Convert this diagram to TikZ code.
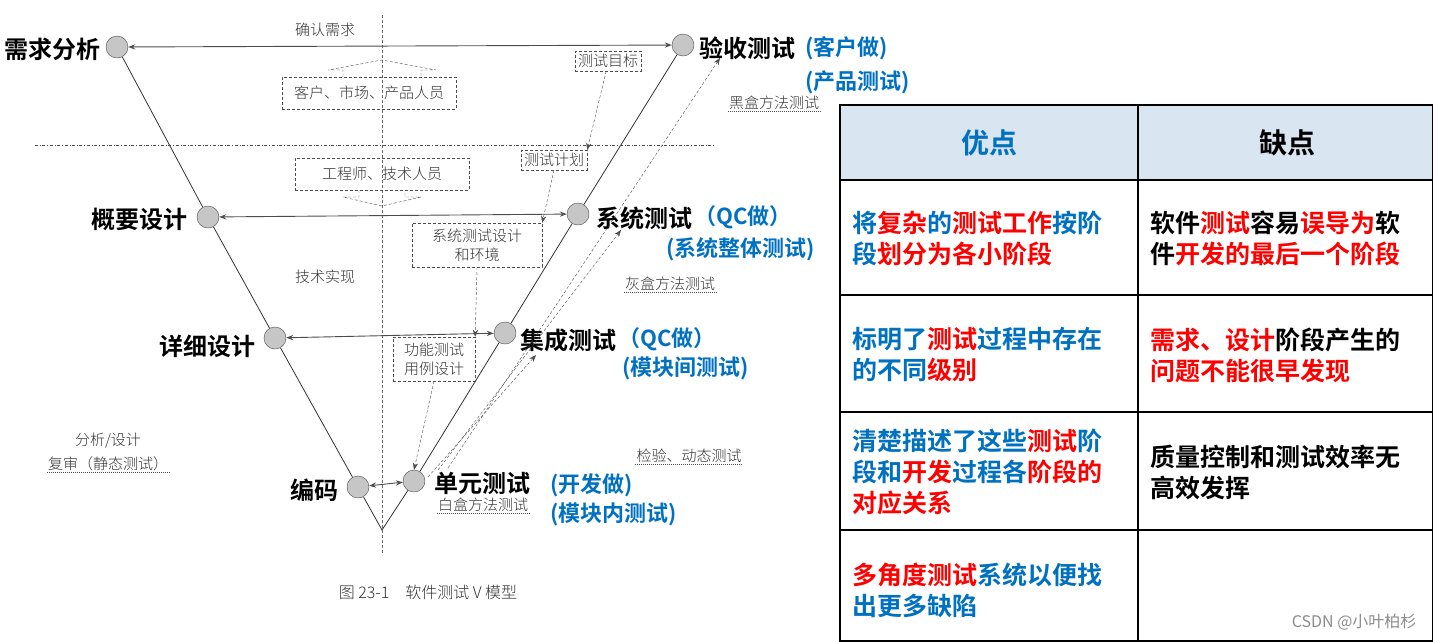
\documentclass[tikz,border=0pt]{standalone}
\usepackage{fontspec}
\setmainfont{Noto Sans CJK SC}
\newfontfamily\cjkb{Noto Sans CJK SC Bold}
\newfontfamily\cjkl{Noto Sans CJK SC Light}
\usetikzlibrary{arrows.meta}
\definecolor{myblue}{HTML}{0070C0}
\definecolor{myred}{HTML}{FF0000}
\definecolor{hdr}{HTML}{D9E5F0}
\newcommand{\Bl}[1]{\textcolor{myblue}{#1}}
\newcommand{\Rd}[1]{\textcolor{myred}{#1}}
\tikzset{
 x=1pt,y=-1pt,
 dot/.style={circle,minimum size=22pt,inner sep=0,fill=gray!45,draw=gray!60!black},
 lab/.style={font=\cjkb\fontsize{24}{26}\selectfont,inner sep=0},
 blab/.style={font=\cjkb\fontsize{22}{24}\selectfont,text=myblue,inner sep=0},
 small/.style={font=\cjkl\fontsize{15}{19}\selectfont,text=black!80,inner sep=1pt,align=center},
 dbox/.style={small,draw=black!70,densely dashed,inner sep=3pt},
 uline/.style={small,append after command={(\tikzlastnode.south west) edge[black!70,densely dotted,line width=1pt] (\tikzlastnode.south east)}},
 harr/.style={{Stealth[length=7pt,open]}-{Stealth[length=7pt,open]},black!70,line width=0.9pt},
 darr/.style={-{Stealth[length=7pt]},black!70,densely dashed},
 cell/.style={font=\cjkb\fontsize{25}{31}\selectfont,anchor=west,align=left,inner sep=0},
}
\begin{document}
\begin{tikzpicture}
\useasboundingbox (0,0) rectangle (1433,641);
\coordinate (vb) at (382,530);
\node[dot] (a1) at (117,47) {};
\node[dot] (a2) at (208,217) {};
\node[dot] (a3) at (275,338) {};
\node[dot] (a4) at (358,487) {};
\node[dot] (b1) at (683,45) {};
\node[dot] (b2) at (578,214) {};
\node[dot] (b3) at (505,333) {};
\node[dot] (b4) at (414,481) {};
\draw[black!80,line width=0.8pt] (a1)--(a2)--(a3)--(a4)--(vb)--(b4)--(b3)--(b2)--(b1);
\coordinate (ct) at (382,15); \coordinate (cb) at (382,555);
\draw[black!60,densely dashed] (ct)--(cb);
\coordinate (hl) at (35,145); \coordinate (hr) at (715,145);
\draw[black!70,dash dot,line width=0.8pt] (hl)--(hr);
\draw[harr] (a1)--(b1);
\draw[harr] (a2)--(b2);
\draw[harr] (a3)--(b3);
\draw[harr] (a4)--(b4);
% labels
\node[lab,anchor=east] at (101,49) {需求分析};
\node[lab,anchor=west] at (699,48) {验收测试};
\node[blab,anchor=west] at (805,48) {(客户做)};
\node[blab,anchor=west] at (805,82) {(产品测试)};
\node[lab,anchor=east] at (188,219) {概要设计};
\node[lab,anchor=west] at (596,218) {系统测试};
\node[blab,anchor=west] at (694,217) {（QC做）};
\node[blab,anchor=west] at (666,249) {(系统整体测试)};
\node[lab,anchor=east] at (256,346) {详细设计};
\node[lab,anchor=west] at (520,340) {集成测试};
\node[blab,anchor=west] at (618,339) {（QC做）};
\node[blab,anchor=west] at (622,368) {(模块间测试)};
\node[lab,anchor=east] at (339,490) {编码};
\node[lab,anchor=west] at (434,483) {单元测试};
\node[blab,anchor=west] at (550,485) {(开发做)};
\node[blab,anchor=west] at (550,514) {(模块内测试)};
% small texts
\node[small] (t1) at (325,30) {确认需求};
\node[uline] (t2) at (774,103) {黑盒方法测试};
\node[small] (t3) at (325,277) {技术实现};
\node[uline] (t4) at (670,284) {灰盒方法测试};
\node[small] (t5) at (108,441) {分析/设计};
\node[uline] (t6) at (108,464) {复审（静态测试）};
\node[uline] (t7) at (689,456) {检验、动态测试};
\node[uline] (t8) at (483,505) {白盒方法测试};
\node[small,font=\cjkl\fontsize{16}{19}\selectfont] (cap) at (428,592) {图 23-1\quad 软件测试 V 模型};
% dashed boxes
\node[dbox] (m1) at (608,61) {测试目标};
\node[dbox,minimum width=174pt,minimum height=32pt] (m2) at (369,93) {客户、市场、产品人员};
\node[dbox,minimum width=174pt,minimum height=32pt] (m3) at (382,174) {工程师、技术人员};
\node[dbox] (m4) at (554,160) {测试计划};
\node[dbox,minimum width=130pt,minimum height=44pt,align=center,font=\cjkl\fontsize{15}{19}\selectfont] (m5) at (477,245) {系统测试设计\\和环境};
\node[dbox,minimum width=82pt,minimum height=44pt,align=center,font=\cjkl\fontsize{15}{19}\selectfont] (m6) at (434,359) {功能测试\\用例设计};
\draw[black!70,densely dashed] (343,77)--(343,70)--(328,70)--(382,60)--(436,70)--(421,70)--(421,77);
\draw[black!70,densely dashed] (359,190)--(359,197)--(343,197)--(382,206)--(421,197)--(405,197)--(405,190);
\draw[darr] (m1.south east)++(-35,0) -- (m4.north east);
\draw[darr] (m4.south) -- (m5.north east);
\draw[darr] (m5.south) -- (m6.north east);
\draw[darr] (m6.south) -- (b4.north);
\coordinate (u0) at (428,477);
\coordinate (u1) at (438,470);
\coordinate (u2) at (448,468);
\draw[darr] (u0) -- (536,355);
\draw[darr] (u1) -- (621,230);
\draw[darr] (u2) -- (720,58);
% table
\fill[hdr] (840,105) rectangle (1433,180);
\draw[black,line width=1.6pt] (840,105) rectangle (1433,641);
\draw[black,line width=1.6pt] (1138,105)--(1138,641);
\foreach \y in {180,295,412,530} \draw[black,line width=1.6pt] (840,\y)--(1433,\y);
\node[font=\cjkb\fontsize{28}{30}\selectfont,text=myblue] (h1) at (989,143) {优点};
\node[font=\cjkb\fontsize{28}{30}\selectfont] (h2) at (1287,143) {缺点};
\node[cell] (c11) at (852,238) {\Bl{将}\Rd{复杂}\Bl{的}\Rd{测试工作}\Bl{按阶}\\\Bl{段}\Rd{划分为各小阶段}};
\node[cell] (c12) at (1150,238) {软件\Rd{测试}容易\Rd{误导为}软\\件\Rd{开发的最后一个阶段}};
\node[cell] (c21) at (852,355) {\Bl{标明了}\Rd{测试}\Bl{过程中存在}\\\Bl{的不同}\Rd{级别}};
\node[cell] (c22) at (1150,355) {\Rd{需求、设计}阶段产生的\\\Rd{问题不能很早发现}};
\node[cell] (c31) at (852,472) {\Bl{清楚描述了这些}\Rd{测试}\Bl{阶}\\\Bl{段和}\Rd{开发}\Bl{过程各}\Rd{阶段的}\\\Rd{对应关系}};
\node[cell] (c32) at (1150,472) {质量控制和测试效率无\\高效发挥};
\node[cell] (c41) at (852,590) {\Rd{多角度测试}\Bl{系统以便找}\\\Bl{出更多缺陷}};
\node[font=\fontsize{16}{18}\selectfont,text=black!45,anchor=east] (wm) at (1420,622) {CSDN @小叶柏杉};
\end{tikzpicture}
\end{document}
